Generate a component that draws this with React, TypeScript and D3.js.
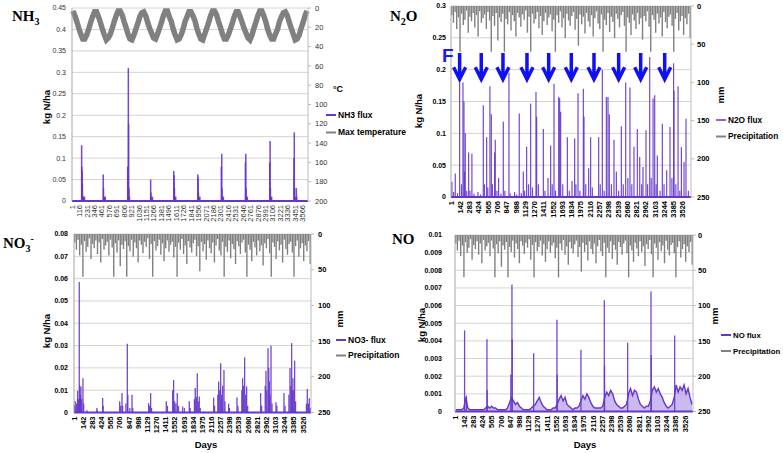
import { useEffect, useRef } from 'react'
import * as d3 from 'd3'

// ---------------- data ----------------

const DAYS = 3650

// x-axis category labels (Excel prints every 115th / 141st day)
const NH3_DAY_TICKS = [1, 116, 231, 346, 461, 576, 691, 806, 921, 1036, 1151, 1266, 1381, 1496, 1611, 1726,
  1841, 1956, 2071, 2186, 2301, 2416, 2531, 2646, 2761, 2876, 2991, 3106, 3221, 3336, 3451, 3566]
const DAY_TICKS = [1, 142, 283, 424, 565, 706, 847, 988, 1129, 1270, 1411, 1552, 1693, 1834, 1975, 2116,
  2257, 2398, 2539, 2680, 2821, 2962, 3103, 3244, 3385, 3526]

// left (flux) axes
const NH3_TICKS = [0, 0.05, 0.1, 0.15, 0.2, 0.25, 0.3, 0.35, 0.4, 0.45]
const N2O_TICKS = [0, 0.05, 0.1, 0.15, 0.2, 0.25, 0.3]
const NO3_TICKS = [0, 0.01, 0.02, 0.03, 0.04, 0.05, 0.06, 0.07, 0.08]
const NO_TICKS = [0, 0.001, 0.002, 0.003, 0.004, 0.005, 0.006, 0.007, 0.008, 0.009, 0.01]

// right (inverted) axes
const TEMP_TICKS = [0, 20, 40, 60, 80, 100, 120, 140, 160, 180, 200]
const PRECIP_TICKS = [0, 50, 100, 150, 200, 250]

// max temperature, one value per month (10 years)
const MONTH = 30.42
const MAX_TEMP = [
  3, 8, 14, 21, 27, 32, 32, 28, 22, 15, 9, 4,
  4, 9, 15, 22, 28, 33, 31, 27, 21, 14, 8, 3,
  3, 7, 14, 20, 27, 32, 33, 28, 22, 16, 9, 5,
  4, 8, 15, 21, 26, 31, 32, 27, 21, 15, 8, 3,
  3, 9, 14, 22, 28, 33, 32, 28, 22, 14, 9, 4,
  4, 8, 13, 21, 27, 32, 33, 27, 21, 15, 8, 3,
  3, 7, 14, 20, 27, 32, 32, 28, 22, 16, 9, 4,
  4, 9, 15, 21, 26, 31, 33, 28, 21, 15, 8, 3,
  3, 8, 14, 22, 28, 32, 32, 27, 22, 14, 9, 5,
  4, 8, 15, 21, 27, 33, 32, 28, 21, 15, 8, 3,
]

// precipitation (mm), one value per 25 days; same weather in the three panels
const PRECIP_STEP = 25
const PRECIP = [
  12, 22, 8, 30, 15, 60, 10, 25, 18, 6, 35, 14, 20, 9, 28, 12, 40, 7, 22, 16,
  11, 30, 8, 19, 60, 13, 26, 9, 45, 15, 21, 10, 60, 17, 24, 8, 32, 12, 20, 40,
  9, 15, 27, 11, 18, 6, 35, 14, 60, 10, 23, 17, 8, 29, 13, 38, 20, 9, 25, 15,
  11, 33, 18, 60, 12, 22, 7, 28, 16, 42, 10, 19, 26, 13, 8, 31, 17, 52, 11, 24,
  14, 36, 9, 20, 27, 12, 40, 16, 7, 23, 30, 11, 60, 18, 25, 9, 34, 14, 21, 42,
  10, 17, 28, 12, 8, 26, 60, 15, 22, 38, 11, 19, 30, 9, 24, 16, 44, 13, 20, 7,
  27, 60, 12, 18, 35, 10, 23, 15, 40, 8, 21, 29, 14, 11, 26, 60, 17, 9, 32, 20,
  13, 38, 16, 24, 10, 42,
]

// fluxes: [day, kg N/ha]
const NH3_FLUX: [number, number][] = [
  [150, 0.13], [153, 0.08], [157, 0.07], [162, 0.04], [168, 0.012], [180, 0.01], [195, 0.01],
  [484, 0.062], [488, 0.03], [494, 0.01], [505, 0.01], [515, 0.01],
  [862, 0.08], [868, 0.06], [872, 0.31], [876, 0.18], [882, 0.03], [890, 0.01],
  [1217, 0.05], [1222, 0.02], [1230, 0.01], [1245, 0.01],
  [1574, 0.07], [1580, 0.06], [1585, 0.03], [1592, 0.01], [1605, 0.01],
  [1946, 0.062], [1951, 0.055], [1956, 0.02], [1965, 0.01], [1978, 0.01],
  [2310, 0.08], [2316, 0.11], [2321, 0.03], [2328, 0.01], [2342, 0.01],
  [2682, 0.09], [2688, 0.11], [2693, 0.03], [2700, 0.01], [2712, 0.01],
  [3058, 0.09], [3064, 0.14], [3069, 0.03], [3076, 0.01], [3088, 0.01],
  [3432, 0.1], [3438, 0.16], [3443, 0.03], [3452, 0.01], [3470, 0.03], [3476, 0.01],
]

const N2O_FLUX: [number, number][] = [
  [15, 0.024], [40, 0.008], [66, 0.037], [100, 0.006], [132, 0.18], [160, 0.02], [183, 0.18], [198, 0.15],
  [205, 0.04], [218, 0.1], [240, 0.01], [269, 0.07], [290, 0.01], [319, 0.068], [350, 0.005], [411, 0.008],
  [450, 0.004], [492, 0.144], [510, 0.02], [543, 0.094], [560, 0.015], [593, 0.174], [614, 0.13], [630, 0.02],
  [664, 0.07], [674, 0.09], [700, 0.01], [725, 0.03], [760, 0.005], [796, 0.118], [820, 0.01], [882, 0.195],
  [900, 0.006], [968, 0.008], [1000, 0.004], [1039, 0.131], [1070, 0.006], [1100, 0.04], [1120, 0.01],
  [1151, 0.079], [1180, 0.02], [1212, 0.147], [1240, 0.015], [1293, 0.165], [1303, 0.126], [1330, 0.02],
  [1405, 0.107], [1430, 0.01], [1476, 0.03], [1516, 0.081], [1540, 0.02], [1567, 0.178], [1590, 0.01],
  [1638, 0.157], [1653, 0.155], [1668, 0.134], [1700, 0.02], [1770, 0.094], [1800, 0.01], [1841, 0.025],
  [1881, 0.092], [1900, 0.02], [1932, 0.163], [1960, 0.01], [2013, 0.17], [2023, 0.126], [2050, 0.02],
  [2094, 0.045], [2124, 0.094], [2150, 0.015], [2246, 0.094], [2270, 0.02], [2302, 0.2], [2330, 0.01],
  [2363, 0.157], [2388, 0.157], [2408, 0.13], [2440, 0.02], [2479, 0.09], [2515, 0.04], [2550, 0.01],
  [2591, 0.111], [2620, 0.02], [2657, 0.18], [2690, 0.03], [2722, 0.172], [2750, 0.02], [2783, 0.079],
  [2834, 0.107], [2870, 0.063], [2900, 0.02], [2920, 0.047], [2966, 0.105], [2990, 0.02], [3022, 0.22],
  [3045, 0.03], [3073, 0.155], [3098, 0.16], [3120, 0.02], [3138, 0.065], [3180, 0.01], [3214, 0.115],
  [3240, 0.02], [3280, 0.042], [3331, 0.11], [3360, 0.03], [3385, 0.21], [3392, 0.167], [3420, 0.02],
  [3453, 0.174], [3480, 0.01], [3504, 0.078], [3544, 0.055], [3574, 0.123], [3610, 0.01],
]

// fertilisation events marked with arrows in the N2O panel
const FERT_DAYS = [132, 461, 791, 1156, 1486, 1830, 2175, 2550, 2885, 3250]

const NO3_FLUX: [number, number][] = [
  [10, 0.003], [20, 0.005], [40, 0.004], [56, 0.0097], [70, 0.006], [82, 0.0585], [90, 0.012], [100, 0.008],
  [108, 0.0117], [120, 0.006], [139, 0.0154], [150, 0.004], [200, 0.001], [354, 0.002], [360, 0.001],
  [442, 0.0065], [450, 0.003], [704, 0.005], [720, 0.003], [740, 0.0087], [750, 0.003], [800, 0.004],
  [822, 0.0308], [830, 0.008], [860, 0.002], [894, 0.008], [905, 0.002], [1150, 0.0042], [1165, 0.003],
  [1181, 0.0087], [1195, 0.002], [1422, 0.005], [1440, 0.003], [1520, 0.01], [1535, 0.0146], [1550, 0.005],
  [1570, 0.004], [1591, 0.0087], [1610, 0.003], [1673, 0.0027], [1700, 0.002], [1776, 0.005], [1790, 0.002],
  [1855, 0.006], [1868, 0.011], [1885, 0.007], [1899, 0.0176], [1915, 0.005], [1930, 0.0072], [1945, 0.002],
  [2151, 0.0067], [2165, 0.003], [2215, 0.008], [2228, 0.0139], [2245, 0.01], [2259, 0.0221], [2275, 0.008],
  [2290, 0.012], [2310, 0.0191], [2325, 0.005], [2382, 0.0039], [2395, 0.002], [2510, 0.0067], [2525, 0.003],
  [2585, 0.01], [2597, 0.0154], [2612, 0.012], [2628, 0.0247], [2645, 0.008], [2659, 0.0117], [2675, 0.003],
  [2875, 0.0087], [2890, 0.003], [2945, 0.012], [2957, 0.0187], [2970, 0.01], [2988, 0.0288], [3000, 0.02],
  [3008, 0.0139], [3020, 0.008], [3034, 0.0299], [3050, 0.004], [3111, 0.0046], [3125, 0.003], [3234, 0.0087],
  [3250, 0.003], [3310, 0.008], [3326, 0.0199], [3340, 0.012], [3352, 0.0311], [3362, 0.01], [3372, 0.0154],
  [3385, 0.01], [3398, 0.0232], [3412, 0.005], [3580, 0.004], [3593, 0.0105], [3610, 0.004], [3624, 0.0064],
  [3640, 0.002],
]

// NO: monthly background flux plus the peaks
const NO_BASE = [
  0.0001, 0.0001, 0.0001, 0.0001, 0.0002, 0.0008, 0.0002, 0.0001, 0.0001, 0.0001, 0.0001, 0.0001,
  0.0001, 0.0001, 0.0001, 0.0002, 0.0003, 0.0002, 0.0003, 0.0002, 0.0002, 0.0001, 0.0001, 0.0001,
  0.0001, 0.0001, 0.0002, 0.0005, 0.0008, 0.0006, 0.0004, 0.0005, 0.0003, 0.0002, 0.0001, 0.0001,
  0.0001, 0.0001, 0.0002, 0.0003, 0.0004, 0.0006, 0.0008, 0.0005, 0.0003, 0.0002, 0.0001, 0.0001,
  0.0001, 0.0002, 0.0002, 0.0004, 0.0007, 0.0009, 0.0006, 0.0008, 0.0004, 0.0003, 0.0002, 0.0001,
  0.0002, 0.0002, 0.0003, 0.0006, 0.0009, 0.0007, 0.001, 0.0008, 0.0005, 0.0003, 0.0002, 0.0002,
  0.0002, 0.0002, 0.0003, 0.0008, 0.0011, 0.0009, 0.0012, 0.001, 0.0006, 0.0004, 0.0003, 0.0002,
  0.0002, 0.0003, 0.0004, 0.001, 0.0013, 0.0009, 0.0012, 0.0011, 0.0007, 0.0004, 0.0003, 0.0002,
  0.0003, 0.0003, 0.0006, 0.0012, 0.0014, 0.0011, 0.0013, 0.001, 0.0008, 0.0005, 0.0003, 0.0002,
  0.0003, 0.0004, 0.0008, 0.0015, 0.0011, 0.0014, 0.0012, 0.0015, 0.001, 0.0013, 0.0008, 0.0004,
]
const NO_FLUX: [number, number][] = [
  [148, 0.0046], [176, 0.0009], [491, 0.0041], [495, 0.0012], [857, 0.0021], [874, 0.0072], [878, 0.0041],
  [1207, 0.0033], [1564, 0.0052], [1568, 0.0021], [1932, 0.0035], [2290, 0.0063], [2294, 0.0026],
  [2648, 0.0039], [3006, 0.0068], [3010, 0.0032], [3369, 0.0043],
]

// ---------------- drawing ----------------

const PURPLE = '#6535cc'
const GREY = '#808080'
const FONT = '"Liberation Sans", Arial, sans-serif'
const SERIF = '"Liberation Serif", "Times New Roman", serif'

type Box = {
  left: number
  right: number
  top: number
  bottom: number
  yTicks: number[]
  rTicks: number[]
  days: number[]
  bold: boolean
  yLabelEnd: number
  rLabelStart: number
}

type Sel = d3.Selection<SVGSVGElement, unknown, null, undefined>
type G = d3.Selection<SVGGElement, unknown, null, undefined>
type Scale = d3.ScaleLinear<number, number>

function drawFrame(svg: Sel, b: Box) {
  const x = d3.scaleLinear().domain([1, DAYS]).range([b.left, b.right])
  const y = d3.scaleLinear().domain([0, d3.max(b.yTicks)!]).range([b.bottom, b.top])
  const r = d3.scaleLinear().domain([0, d3.max(b.rTicks)!]).range([b.top, b.bottom])
  const g = svg.append('g')
  const weight = b.bold ? 'bold' : 'normal'
  const tickColor = b.bold ? '#000' : '#333'

  // horizontal gridlines
  g.selectAll('.grid')
    .data(b.yTicks.slice(1))
    .enter()
    .append('line')
    .attr('x1', b.left)
    .attr('x2', b.right)
    .attr('y1', d => y(d))
    .attr('y2', d => y(d))
    .style('stroke', '#d4d4d4')
    .style('stroke-width', 1)

  // left tick labels
  g.selectAll('.ylab')
    .data(b.yTicks)
    .enter()
    .append('text')
    .attr('x', b.yLabelEnd)
    .attr('y', d => y(d))
    .attr('dy', '0.35em')
    .attr('text-anchor', 'end')
    .style('font', `${weight} 7px ${FONT}`)
    .style('fill', tickColor)
    .text(d => String(d))

  // right tick labels + ticks
  g.selectAll('.rlab')
    .data(b.rTicks)
    .enter()
    .append('text')
    .attr('x', b.rLabelStart)
    .attr('y', d => r(d))
    .attr('dy', '0.35em')
    .style('font', `${weight} 7.5px ${FONT}`)
    .style('fill', tickColor)
    .text(d => String(d))
  g.selectAll('.rtick')
    .data(b.rTicks)
    .enter()
    .append('line')
    .attr('x1', b.right)
    .attr('x2', b.right + 3)
    .attr('y1', d => r(d))
    .attr('y2', d => r(d))
    .style('stroke', '#bbb')

  // day labels, rotated
  g.selectAll('.xlab')
    .data(b.days)
    .enter()
    .append('text')
    .attr('transform', d => `translate(${x(d)},${b.bottom + 4}) rotate(-90)`)
    .attr('dy', '0.35em')
    .attr('text-anchor', 'end')
    .style('font', `${weight} 7.5px ${FONT}`)
    .style('fill', tickColor)
    .text(d => String(d))

  return { g, x, y, r }
}

function drawAxes(g: G, b: Box) {
  g.append('line')
    .attr('x1', b.left).attr('x2', b.left)
    .attr('y1', b.top).attr('y2', b.bottom)
    .style('stroke', '#a6a6a6')
  g.append('line')
    .attr('x1', b.right).attr('x2', b.right)
    .attr('y1', b.top).attr('y2', b.bottom)
    .style('stroke', '#bbb')
}

function drawPrecip(g: G, x: Scale, r: Scale) {
  g.selectAll('.precip')
    .data(PRECIP)
    .enter()
    .append('line')
    .attr('x1', (d, i) => x(13 + i * PRECIP_STEP))
    .attr('x2', (d, i) => x(13 + i * PRECIP_STEP))
    .attr('y1', r(0))
    .attr('y2', d => r(d))
    .style('stroke', GREY)
    .style('stroke-width', 1.4)
}

function drawSpikes(g: G, data: [number, number][], x: Scale, y: Scale, width = 1.3) {
  g.selectAll('.spike')
    .data(data)
    .enter()
    .append('line')
    .attr('x1', d => x(d[0]))
    .attr('x2', d => x(d[0]))
    .attr('y1', y(0))
    .attr('y2', d => y(d[1]))
    .style('stroke', PURPLE)
    .style('stroke-width', width)
    .style('opacity', 0.9)
}

function drawBaseline(g: G, x: Scale, y: Scale) {
  g.append('line')
    .attr('x1', x(1)).attr('x2', x(DAYS))
    .attr('y1', y(0)).attr('y2', y(0))
    .style('stroke', PURPLE)
    .style('stroke-width', 2)
}

function drawLegend(svg: Sel, lx: number, ly: number, gap: number, size: number,
  items: { label: string, color: string }[]) {
  items.forEach((it, i) => {
    svg.append('line')
      .attr('x1', lx).attr('x2', lx + 10)
      .attr('y1', ly + i * gap).attr('y2', ly + i * gap)
      .style('stroke', it.color)
      .style('stroke-width', 2)
    svg.append('text')
      .attr('x', lx + 12)
      .attr('y', ly + i * gap)
      .attr('dy', '0.35em')
      .style('font', `bold ${size}px ${FONT}`)
      .text(it.label)
  })
}

function vLabel(svg: Sel, cx: number, cy: number, text: string) {
  svg.append('text')
    .attr('transform', `translate(${cx},${cy}) rotate(-90)`)
    .attr('dy', '0.35em')
    .attr('text-anchor', 'middle')
    .style('font', `bold 9.5px ${FONT}`)
    .text(text)
}

function title(svg: Sel, tx: number, ty: number, main: string, sub: string, after: string, sup = '') {
  const t = svg.append('text')
    .attr('x', tx)
    .attr('y', ty)
    .style('font', `bold 15px ${SERIF}`)
  t.append('tspan').text(main)
  if (sub) t.append('tspan').attr('dy', 4).style('font-size', '10px').text(sub)
  if (after) t.append('tspan').attr('dy', -4).text(after)
  if (sup) t.append('tspan').attr('dy', -10).style('font-size', '10px').text(sup)
}

const App = () => {
  const svgRef = useRef<SVGSVGElement>(null)

  useEffect(() => {
    if (!svgRef.current) return
    const svg = d3.select(svgRef.current)
    svg.selectAll('*').remove()

    // ---- NH3 ----
    const nh3Box: Box = {
      left: 72, right: 308, top: 8, bottom: 201,
      yTicks: NH3_TICKS, rTicks: TEMP_TICKS, days: NH3_DAY_TICKS, bold: false,
      yLabelEnd: 66, rLabelStart: 315,
    }
    const a = drawFrame(svg, nh3Box)
    const tempLine = d3.line<number>()
      .x((d, i) => a.x(15 + i * MONTH))
      .y(d => a.r(d))
    a.g.append('path')
      .attr('d', tempLine(MAX_TEMP) || '')
      .style('fill', 'none')
      .style('stroke', GREY)
      .style('stroke-width', 5.5)
      .style('stroke-linejoin', 'miter')
    drawSpikes(a.g, NH3_FLUX, a.x, a.y, 1.5)
    drawBaseline(a.g, a.x, a.y)
    drawAxes(a.g, nh3Box)
    title(svg, 12, 21, 'NH', '3', '')
    vLabel(svg, 47, 107, 'kg N/ha')
    svg.append('text').attr('x', 333).attr('y', 92)
      .style('font', `bold 9px ${FONT}`).text('°C')
    drawLegend(svg, 326, 115, 17.5, 8.5, [
      { label: 'NH3 flux', color: PURPLE },
      { label: 'Max temperature', color: GREY },
    ])

    // ---- N2O ----
    const n2oBox: Box = {
      left: 451, right: 691, top: 6, bottom: 197,
      yTicks: N2O_TICKS, rTicks: PRECIP_TICKS, days: DAY_TICKS, bold: true,
      yLabelEnd: 446, rLabelStart: 697,
    }
    const b = drawFrame(svg, n2oBox)
    drawPrecip(b.g, b.x, b.r)
    drawSpikes(b.g, N2O_FLUX, b.x, b.y, 1.2)
    drawBaseline(b.g, b.x, b.y)
    drawAxes(b.g, n2oBox)
    // fertilisation arrows
    b.g.selectAll('.arrow')
      .data(FERT_DAYS)
      .enter()
      .append('path')
      .attr('d', d => {
        const cx = b.x(d)
        const top = b.y(0.226)
        const tip = b.y(0.185)
        return `M${cx},${top}L${cx},${tip - 1}M${cx - 6},${tip - 12}L${cx},${tip}L${cx + 6},${tip - 12}`
      })
      .style('fill', 'none')
      .style('stroke', '#1010f0')
      .style('stroke-width', 3.5)
    svg.append('text').attr('x', 442).attr('y', 62)
      .style('font', `bold 19px ${FONT}`)
      .style('fill', '#1a1af2')
      .text('F')
    title(svg, 390, 21, 'N', '2', 'O')
    vLabel(svg, 419, 111, 'kg N/ha')
    vLabel(svg, 721, 95, 'mm')
    drawLegend(svg, 716, 120, 16.5, 8.3, [
      { label: 'N2O flux', color: '#8a63dd' },
      { label: 'Precipitation', color: GREY },
    ])

    // ---- NO3- ----
    const no3Box: Box = {
      left: 74, right: 311, top: 234, bottom: 412.5,
      yTicks: NO3_TICKS, rTicks: PRECIP_TICKS, days: DAY_TICKS, bold: true,
      yLabelEnd: 68, rLabelStart: 318,
    }
    const c = drawFrame(svg, no3Box)
    drawPrecip(c.g, c.x, c.r)
    drawSpikes(c.g, NO3_FLUX, c.x, c.y, 1.3)
    drawBaseline(c.g, c.x, c.y)
    drawAxes(c.g, no3Box)
    title(svg, 3, 248, 'NO', '3', '', '-')
    vLabel(svg, 47, 331, 'kg N/ha')
    vLabel(svg, 340, 319, 'mm')
    svg.append('text').attr('x', 206).attr('y', 448).attr('text-anchor', 'middle')
      .style('font', `bold 9.5px ${FONT}`).text('Days')
    drawLegend(svg, 336, 340, 15.5, 8.5, [
      { label: 'NO3- flux', color: PURPLE },
      { label: 'Precipitation', color: GREY },
    ])

    // ---- NO ----
    const noBox: Box = {
      left: 455, right: 693, top: 235, bottom: 411.5,
      yTicks: NO_TICKS, rTicks: PRECIP_TICKS, days: DAY_TICKS, bold: true,
      yLabelEnd: 442, rLabelStart: 698,
    }
    const d = drawFrame(svg, noBox)
    drawPrecip(d.g, d.x, d.r)
    const noArea = d3.area<number>()
      .x((v, i) => d.x(15 + i * MONTH))
      .y0(d.y(0))
      .y1(v => d.y(v))
    d.g.append('path')
      .attr('d', noArea(NO_BASE) || '')
      .style('fill', '#a58de6')
      .style('opacity', 0.6)
    const noLine = d3.line<number>()
      .x((v, i) => d.x(15 + i * MONTH))
      .y(v => d.y(v))
    d.g.append('path')
      .attr('d', noLine(NO_BASE) || '')
      .style('fill', 'none')
      .style('stroke', PURPLE)
      .style('stroke-width', 1.4)
    drawSpikes(d.g, NO_FLUX, d.x, d.y, 1.3)
    drawBaseline(d.g, d.x, d.y)
    drawAxes(d.g, noBox)
    title(svg, 392, 244, 'NO', '', '')
    vLabel(svg, 422, 325, 'kg N/ha')
    vLabel(svg, 715, 316, 'mm')
    svg.append('text').attr('x', 585).attr('y', 448).attr('text-anchor', 'middle')
      .style('font', `bold 9.5px ${FONT}`).text('Days')
    drawLegend(svg, 721, 335, 16, 7.8, [
      { label: 'NO flux', color: PURPLE },
      { label: 'Precipitation', color: GREY },
    ])
  }, [])

  return (
    <svg
      ref={svgRef}
      width={783}
      height={453}
      style={{ position: 'absolute', left: 0, top: 0, background: '#fff' }}
    />
  )
}

export default App
